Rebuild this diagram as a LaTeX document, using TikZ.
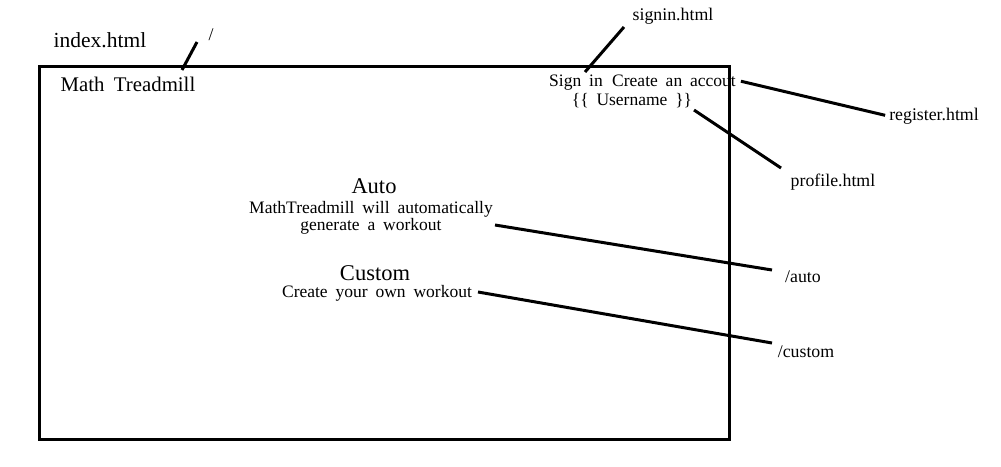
\documentclass[tikz,border=0pt]{standalone}
\usepackage{fontspec}
\setmainfont{Liberation Serif}
\usetikzlibrary{positioning}
\begin{document}
\begin{tikzpicture}[x=1pt,y=-1pt,
  page/.style={draw,line width=3pt},
  link/.style={line width=3pt},
  file/.style={inner sep=1pt,font=\fontsize{17.8}{20}\selectfont},
  ui/.style={inner sep=1pt,align=center,font=\fontsize{17.5}{16.5}\selectfont,
             execute at begin node={\spaceskip=0.45em plus 0.1em\relax}},
  head/.style={inner sep=1pt,font=\fontsize{22.5}{25}\selectfont}
]
\useasboundingbox (0,0) rectangle (1001,466);
% page frame
\draw[page] (39,66) rectangle (729,439);
% file names
\node[file,font=\fontsize{21.5}{24}\selectfont] (index) at (100,40) {index.html};
\node[file] (root) at (211,35) {/};
\node[file] (signinfile) at (673,16) {signin.html};
\node[file] (register) at (934,116) {register.html};
\node[file] (profile) at (833,182) {profile.html};
\node[file] (autopath) at (803,277) {/auto};
\node[file] (custompath) at (806,352) {/custom};
% page contents
\node[ui,font=\fontsize{20.8}{24}\selectfont] (title) at (128,84) {Math Treadmill};
\node[ui,anchor=base] (signin) at (576,86) {Sign in};
\node[ui,anchor=base] (create) at (674,86) {Create an accout};
\node[ui,anchor=base] (username) at (632,105) {\{\{ Username \}\}};
\node[head] (auto) at (374,186) {Auto};
\node[ui] (autotext) at (371,218) {MathTreadmill will automatically\\generate a workout};
\node[head] (custom) at (375,273) {Custom};
\node[ui] (customtext) at (377,293) {Create your own workout};
% connector ends
\coordinate (titletip) at (182,70);
\coordinate (roottip) at (197,42);
\coordinate (signintip) at (585,72);
\coordinate (signinfiletip) at (624,27);
\coordinate (usertip) at (694,110);
\coordinate (profiletip) at (781,168);
\coordinate (autotip) at (495,225);
\coordinate (autopathtip) at (772,270);
\coordinate (customtip) at (478,292);
\coordinate (custompathtip) at (772,343);
\draw[link] (titletip) -- (roottip);
\draw[link] (signintip) -- (signinfiletip);
\draw[link,shorten <=4pt,shorten >=3pt] (create.east) -- (register.west);
\draw[link] (usertip) -- (profiletip);
\draw[link] (autotip) -- (autopathtip);
\draw[link] (customtip) -- (custompathtip);
\end{tikzpicture}
\end{document}
